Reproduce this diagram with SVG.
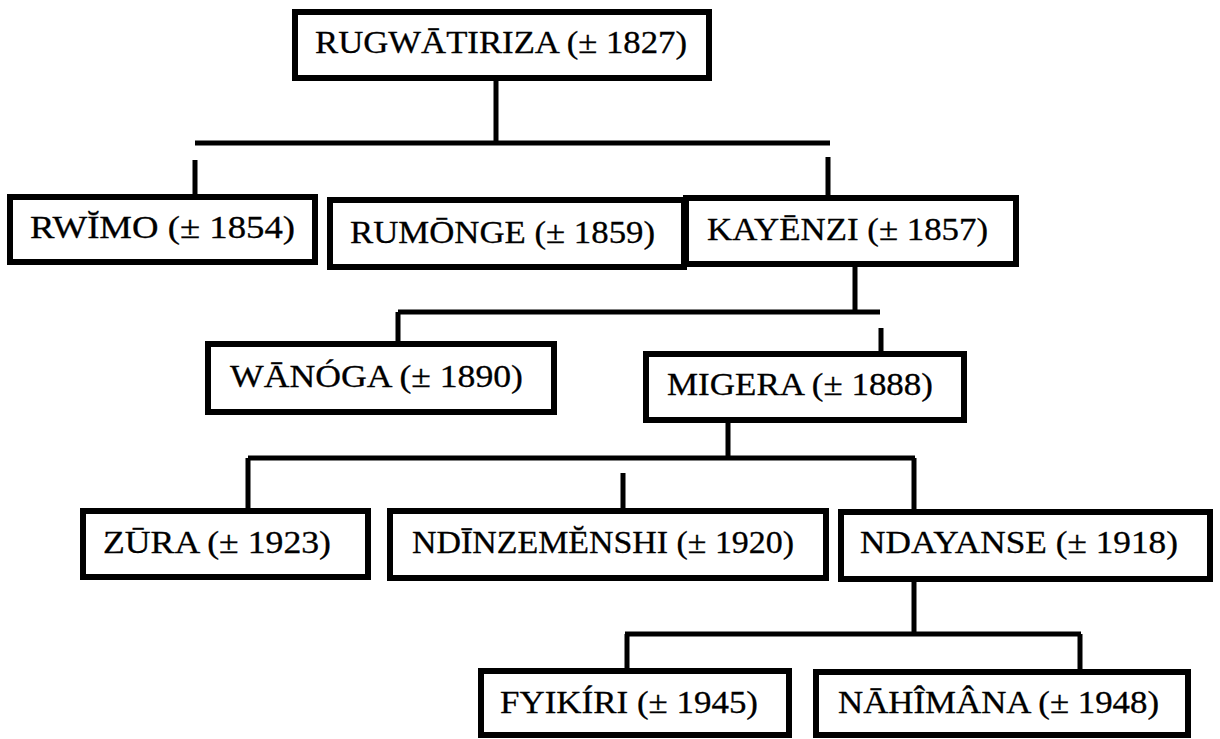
<svg xmlns="http://www.w3.org/2000/svg" width="1220" height="739" viewBox="0 0 1220 739">
<style>
.box{fill:#fff;stroke:#000;stroke-width:6}
.t{font-family:'Liberation Serif','Times New Roman',serif;font-size:32px;fill:#000;stroke:#000;stroke-width:0.3}
.c{fill:none;stroke:#000;stroke-width:5}
</style>
<rect width="1220" height="739" fill="#fff"/>
<g id="connectors">
<path class="c" d="M496 80V143M195 143H830M195 160V208M828 157V210"/>
<path class="c" d="M855 264V312M398 312H880M398 312V344M881 328V365"/>
<path class="c" d="M728 420V458M248 458H915M248 458V511M623 473V522M914 458V512"/>
<path class="c" d="M914 579V634M625 634H1081M627 634V671M1080 634V672"/>
</g>
<g id="n-rugwatiriza"><rect class="box" x="295" y="12" width="414" height="66"/><text class="t" x="315" y="53" textLength="372" lengthAdjust="spacingAndGlyphs">RUGWĀTIRIZA (± 1827)</text></g>
<g id="n-rwimo"><rect class="box" x="10" y="197" width="305" height="65"/><text class="t" x="30" y="238" textLength="265" lengthAdjust="spacingAndGlyphs">RWĬMO (± 1854)</text></g>
<g id="n-rumonge"><rect class="box" x="330" y="200" width="354" height="67"/><text class="t" x="350" y="243" textLength="305" lengthAdjust="spacingAndGlyphs">RUMŌNGE (± 1859)</text></g>
<g id="n-kayenzi"><rect class="box" x="686" y="198" width="330" height="66"/><text class="t" x="707" y="240" textLength="281" lengthAdjust="spacingAndGlyphs">KAYĒNZI (± 1857)</text></g>
<g id="n-wanoga"><rect class="box" x="208" y="344" width="346" height="68"/><text class="t" x="230" y="387" textLength="293" lengthAdjust="spacingAndGlyphs">WĀNÓGA (± 1890)</text></g>
<g id="n-migera"><rect class="box" x="646" y="354" width="318" height="66"/><text class="t" x="667" y="395" textLength="266" lengthAdjust="spacingAndGlyphs">MIGERA (± 1888)</text></g>
<g id="n-zura"><rect class="box" x="83" y="511" width="285" height="66"/><text class="t" x="103" y="553" textLength="228" lengthAdjust="spacingAndGlyphs">ZŪRA (± 1923)</text></g>
<g id="n-ndinzemenshi"><rect class="box" x="390" y="511" width="436" height="67"/><text class="t" x="412" y="553" textLength="382" lengthAdjust="spacingAndGlyphs">NDĪNZEMĔNSHI (± 1920)</text></g>
<g id="n-ndayanse"><rect class="box" x="841" y="512" width="369" height="67"/><text class="t" x="860" y="553" textLength="318" lengthAdjust="spacingAndGlyphs">NDAYANSE (± 1918)</text></g>
<g id="n-fyikiri"><rect class="box" x="481" y="671" width="308" height="64"/><text class="t" x="500" y="713" textLength="258" lengthAdjust="spacingAndGlyphs">FYIKÍRI (± 1945)</text></g>
<g id="n-nahimana"><rect class="box" x="816" y="672" width="372" height="63"/><text class="t" x="838" y="713" textLength="321" lengthAdjust="spacingAndGlyphs">NĀHÎMÂNA (± 1948)</text></g>
</svg>
